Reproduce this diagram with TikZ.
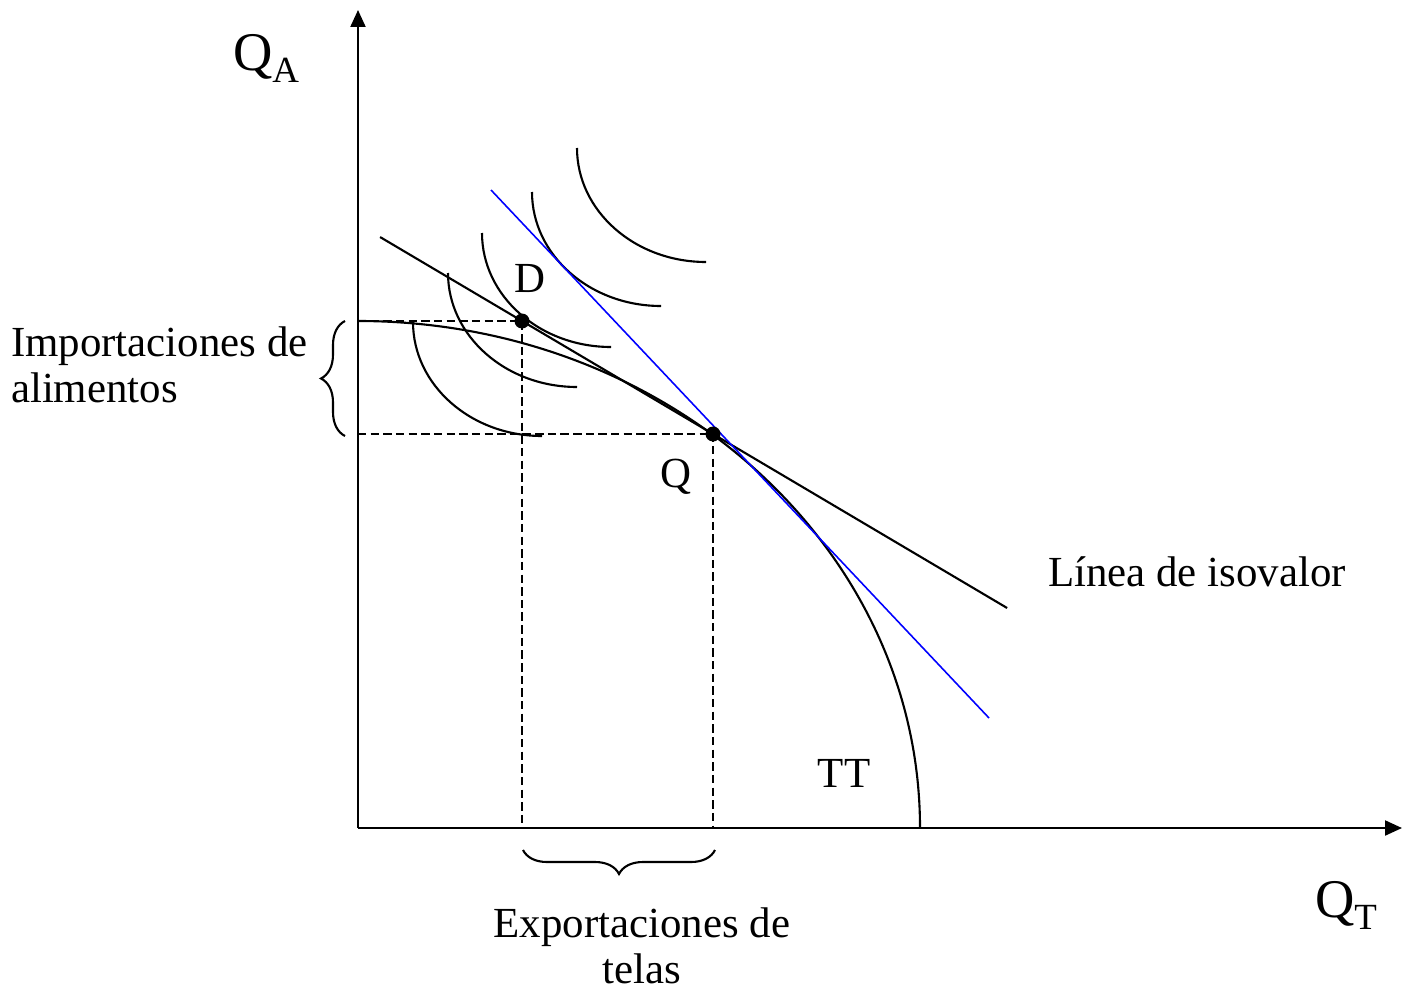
\documentclass[tikz,border=0pt]{standalone}
\usepackage{fontspec}
\setmainfont{Liberation Serif}
\usetikzlibrary{arrows.meta, calc, decorations.pathreplacing}

\newcommand{\qlab}[1]{Q\raisebox{-3.4pt}{\fontsize{10.5}{12}\selectfont #1}}

\begin{document}
\begin{tikzpicture}[>={Triangle[length=0.17cm,width=0.15cm]},line width=0.6pt,font=\fontsize{12.2}{13.2}\selectfont]
		\tikzstyle{dot}=[circle,fill,inner sep=0pt,minimum size=0.15cm]
		\tikzstyle{guide}=[line width=0.6pt,dash pattern=on 2.4pt off 1.2pt]
		\tikzstyle{brc}=[decorate,decoration={brace,amplitude=0.24cm}]
		\tikzstyle{lab}=[inner sep=0pt]
		\tikzstyle{axlab}=[inner sep=0pt,font=\fontsize{15.5}{18}\selectfont]

		\useasboundingbox (0,0) rectangle (14.03,9.95);

		\coordinate (O) at (3.58,1.67);
		\coordinate (ytop) at (3.58,9.85);
		\coordinate (xend) at (14.02,1.67);
		\coordinate (D) at (5.22,6.74);
		\coordinate (Q) at (7.13,5.61);
		\coordinate (b1) at (4.91,8.05);
		\coordinate (b2) at (9.89,2.77);

		\draw[->] (O) -- (ytop);
		\draw[->] (O) -- (xend);

		\draw (O |- D) arc[start angle=90, end angle=0, x radius=5.62, y radius=5.07];

		\foreach \x/\y in {4.13/6.73, 4.48/7.22, 4.82/7.62, 5.32/8.03, 5.77/8.47}
			\draw (\x,\y) arc[start angle=180, end angle=270, x radius=1.29, y radius=1.14];

		\draw ($(D)!-0.743!(Q)$) -- ($(D)!2.54!(Q)$);
		\draw[blue,line width=0.45pt] (b1) -- (b2);

		\draw[guide] (O |- D) -- (D) -- (D |- O);
		\draw[guide] (O |- Q) -- (Q) -- (Q |- O);

		\node[dot] (Ddot) at (D) {};
		\node[dot] (Qdot) at (Q) {};

		\draw[brc] (3.45,5.59) -- (3.45,6.74);
		\draw[brc] (7.15,1.45) -- (5.23,1.45);

		\node[axlab] (QA) at (2.66,9.37) {\qlab{A}};
		\node[axlab] (QT) at (13.46,0.90) {\qlab{T}};
		\node[lab] (Dlab) at (5.30,7.16) {D};
		\node[lab] (Qlab) at (6.76,5.18) {Q};
		\node[lab] (TT) at (8.44,2.22) {TT};
		\node[lab,anchor=west] (iso) at (10.47,4.23) {Línea de isovalor};
		\node[lab,anchor=west,align=left] (imp) at (0.10,6.30) {Importaciones de\\alimentos};
		\node[lab,align=center] (exp) at (6.42,0.49) {Exportaciones de\\telas};
\end{tikzpicture}
\end{document}
